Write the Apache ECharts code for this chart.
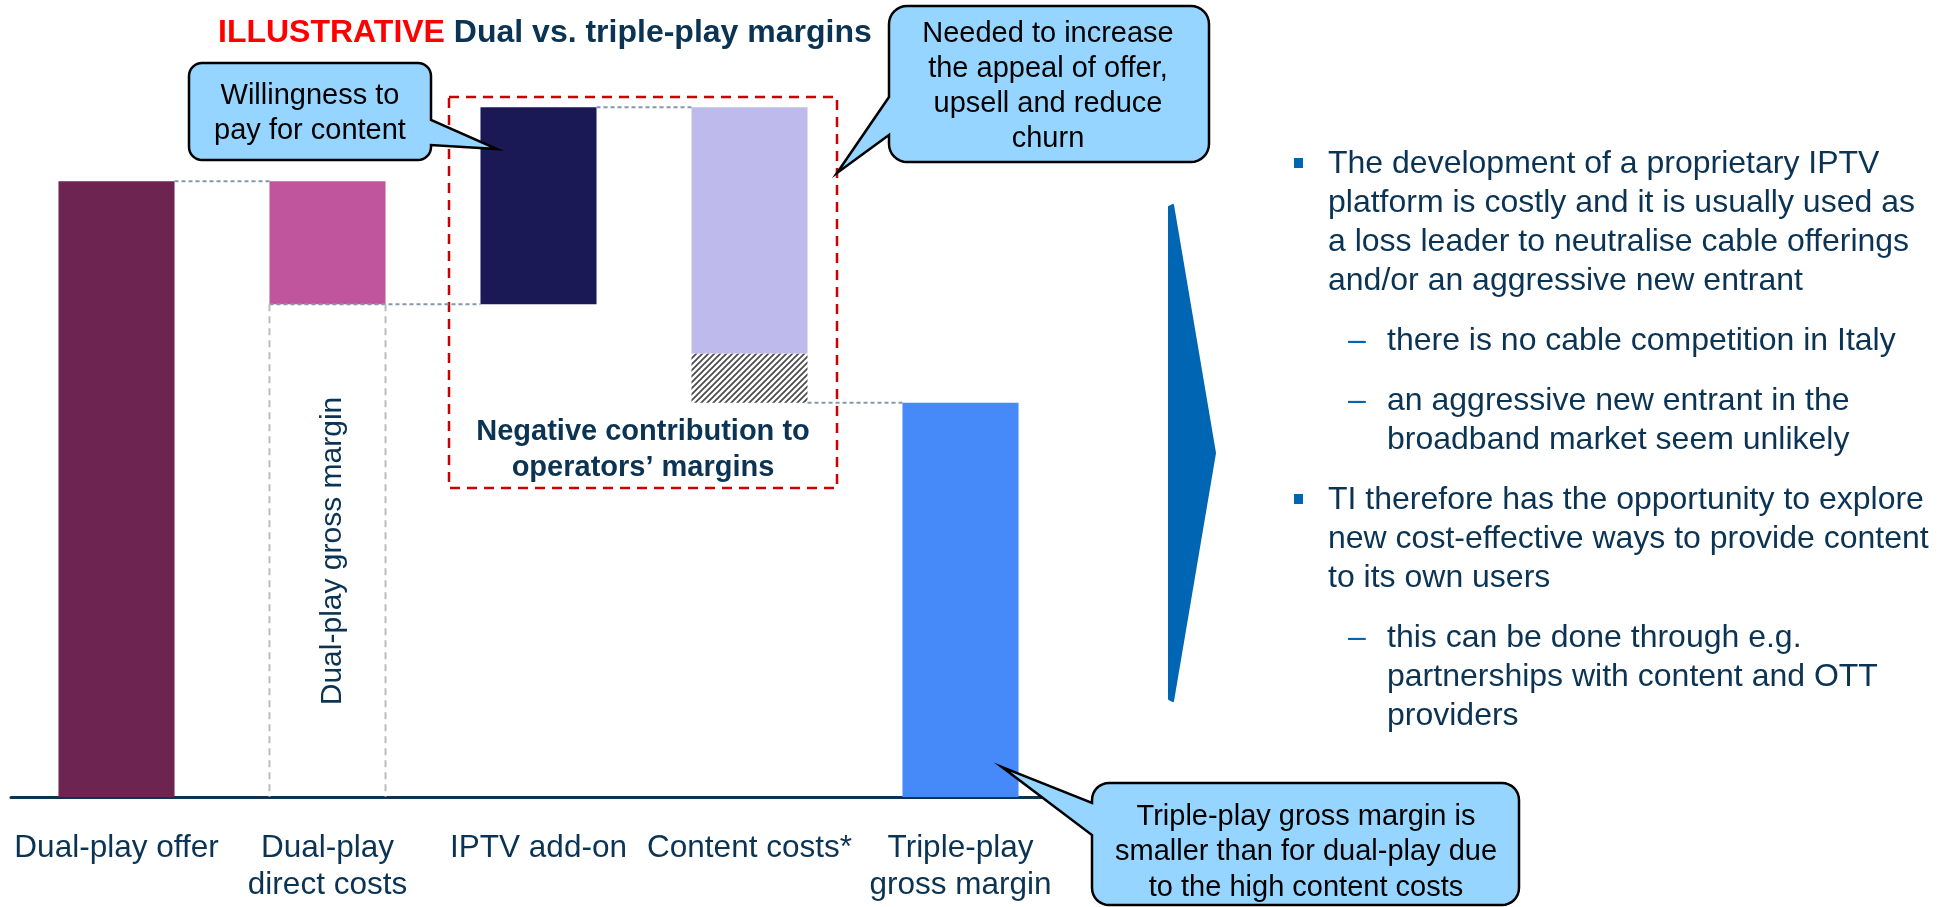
<!DOCTYPE html>
<html><head><meta charset="utf-8">
<script src="https://cdn.jsdelivr.net/npm/echarts@6/dist/echarts.min.js"></script>
<style>html,body{margin:0;padding:0;background:#fff}#c{width:1951px;height:907px}</style>
</head><body><div id="c"></div>
<script>
// ---- data ----
const categories = ['Dual-play offer', 'Dual-play\ndirect costs', 'IPTV add-on', 'Content costs*', 'Triple-play\ngross margin'];
const baseValues    = [0, 80, 80, 64, 0];   // invisible waterfall offsets
const hatchedValues = [0, 0, 0, 8, 0];      // hatched part of content costs
const barValues     = [100, 20, 32, 40, 64];

const bullet1Lines = ['The development of a proprietary IPTV', 'platform is costly and it is usually used as', 'a loss leader to neutralise cable offerings', 'and/or an aggressive new entrant'];
const sub1Lines = ['there is no cable competition in Italy'];
const sub2Lines = ['an aggressive new entrant in the', 'broadband market seem unlikely'];
const bullet2Lines = ['TI therefore has the opportunity to explore', 'new cost-effective ways to provide content', 'to its own users'];
const sub3Lines = ['this can be done through e.g.', 'partnerships with content and OTT', 'providers'];

const calloutWillingness = 'Willingness to\npay for content';
const calloutNeeded = 'Needed to increase\nthe appeal of offer,\nupsell and reduce\nchurn';
const calloutTriple = 'Triple-play gross margin is\nsmaller than for dual-play due\nto the high content costs';
const boxLabel = 'Negative contribution to\noperators\u2019 margins';
const marginLabel = 'Dual-play gross margin';

// ---- styles ----
const FONT = '"Liberation Sans", Arial, Helvetica, sans-serif';
const NAVY = '#0B3353';
const palette = ['#6E2450', '#C0559E', '#1B1856', '#BEBBEC', '#4689F9'];

const pc = document.createElement('canvas'); pc.width = 6; pc.height = 6;
const g = pc.getContext('2d');
g.fillStyle = '#ffffff'; g.fillRect(0, 0, 6, 6);
g.strokeStyle = '#4a4a4a'; g.lineWidth = 1.7;
g.beginPath();
g.moveTo(-1, 7); g.lineTo(7, -1);
g.moveTo(-1, 1); g.lineTo(1, -1);
g.moveTo(5, 7); g.lineTo(7, 5);
g.stroke();

const chart = echarts.init(document.getElementById('c'), null, {renderer: 'canvas'});
chart.setOption({
  animation: false,
  backgroundColor: '#ffffff',
  grid: {left: 11, right: 885, top: 58, bottom: 110, containLabel: false, outerBoundsMode: 'none'},
  xAxis: {
    type: 'category', data: categories,
    axisLine: {show: true, lineStyle: {color: '#0D3350', width: 3}},
    axisTick: {show: false},
    splitLine: {show: false},
    axisLabel: {interval: 0, color: NAVY, fontSize: 31.5, lineHeight: 37, margin: 33, fontFamily: FONT}
  },
  yAxis: {type: 'value', min: 0, max: 120, show: false, splitLine: {show: false}},
  series: [
    {type: 'bar', stack: 'w', data: baseValues, barWidth: '55%', itemStyle: {color: 'rgba(0,0,0,0)'}, silent: true},
    {type: 'bar', stack: 'w', data: hatchedValues, barWidth: '55%', itemStyle: {color: {image: pc, repeat: 'repeat'}}},
    {type: 'bar', stack: 'w', barWidth: '55%',
     data: barValues.map((v, i) => ({value: v, itemStyle: {color: palette[i]}}))}
  ]
});

// ---- annotations ----
const px = (i, v) => chart.convertToPixel({xAxisIndex: 0, yAxisIndex: 0}, [i, v]);
const band = px(1, 0)[0] - px(0, 0)[0];
const half = band * 0.55 / 2;
const cx = i => px(i, 0)[0];
const vy = v => px(0, v)[1];

const gray = {stroke: '#8497AB', lineWidth: 2, lineDash: [4, 3]};
const light = {stroke: '#BDBDBD', lineWidth: 2, lineDash: [7, 5]};
function ln(x1, y1, x2, y2, st) { return {type: 'line', shape: {x1, y1, x2, y2}, style: st, z: 5}; }

const lvOffer = barValues[0];
const lvDirect = baseValues[1];
const lvIptv = baseValues[2] + barValues[2];
const lvContent = baseValues[3];

const els = [];
// connectors
els.push(ln(cx(0) + half, vy(lvOffer), cx(1) - half, vy(lvOffer), gray));
els.push(ln(cx(1) - half, vy(lvDirect), cx(2) - half, vy(lvDirect), gray));
els.push(ln(cx(2) + half, vy(lvIptv), cx(3) - half, vy(lvIptv), gray));
els.push(ln(cx(3) + half, vy(lvContent), cx(4) - half, vy(lvContent), gray));
// dual-play gross margin outline
els.push(ln(cx(1) - half, vy(lvDirect), cx(1) - half, vy(0), light));
els.push(ln(cx(1) + half, vy(lvDirect), cx(1) + half, vy(0), light));

// rotated label
els.push({type: 'text', x: cx(1) + 5, y: 551, rotation: Math.PI / 2, z: 6,
  style: {text: marginLabel, fontSize: 30, fontFamily: FONT, fill: NAVY, align: 'center', verticalAlign: 'middle'}});

// red dashed box
els.push({type: 'rect', shape: {x: 449, y: 97, width: 388, height: 391}, z: 4,
  style: {fill: 'none', stroke: '#CC0000', lineWidth: 2.5, lineDash: [10, 7]}});
els.push({type: 'text', x: 643, y: 450, z: 6,
  style: {text: boxLabel, fontSize: 29, fontWeight: 'bold', fontFamily: FONT, fill: NAVY, align: 'center', verticalAlign: 'middle', lineHeight: 36}});

// title
els.push({type: 'text', x: 218, y: 33, z: 6,
  style: {text: '{r|ILLUSTRATIVE} {n|Dual vs. triple-play margins}', fontSize: 32, fontWeight: 'bold', fontFamily: FONT,
    align: 'left', verticalAlign: 'middle',
    rich: {r: {fill: '#FF0000', fontSize: 32, fontWeight: 'bold', fontFamily: FONT},
           n: {fill: NAVY, fontSize: 32, fontWeight: 'bold', fontFamily: FONT}}}});

// speech bubbles
function bubble(x, y, w, h, r, side, b1, b2, tip) {
  const pts = [];
  const arc = (ccx, ccy, a0, a1) => { for (let k = 0; k <= 8; k++) { const a = a0 + (a1 - a0) * k / 8; pts.push([ccx + r * Math.cos(a), ccy + r * Math.sin(a)]); } };
  arc(x + r, y + r, Math.PI, 1.5 * Math.PI);
  arc(x + w - r, y + r, 1.5 * Math.PI, 2 * Math.PI);
  if (side === 'right') { pts.push([x + w, b1], tip, [x + w, b2]); }
  arc(x + w - r, y + h - r, 0, 0.5 * Math.PI);
  arc(x + r, y + h - r, 0.5 * Math.PI, Math.PI);
  if (side === 'left') { pts.push([x, b2], tip, [x, b1]); }
  return pts;
}
const bubbleStyle = {fill: '#95D5FF', stroke: '#000000', lineWidth: 2.5};
els.push({type: 'polygon', z: 7, shape: {points: bubble(189, 63, 242, 97, 13, 'right', 120, 145, [497, 149])}, style: bubbleStyle});
els.push({type: 'text', x: 310, y: 113.5, z: 8,
  style: {text: calloutWillingness, fontSize: 29, fontFamily: FONT, fill: '#000', align: 'center', verticalAlign: 'middle', lineHeight: 35}});
els.push({type: 'polygon', z: 7, shape: {points: bubble(889, 6, 320, 156, 18, 'left', 97, 135, [837, 173])}, style: bubbleStyle});
els.push({type: 'text', x: 1048, y: 86, z: 8,
  style: {text: calloutNeeded, fontSize: 29, fontFamily: FONT, fill: '#000', align: 'center', verticalAlign: 'middle', lineHeight: 35}});
els.push({type: 'polygon', z: 7, shape: {points: bubble(1092, 783, 427, 122, 17, 'left', 803, 835, [1002, 767])}, style: bubbleStyle});
els.push({type: 'text', x: 1306, y: 852, z: 8,
  style: {text: calloutTriple, fontSize: 29, fontFamily: FONT, fill: '#000', align: 'center', verticalAlign: 'middle', lineHeight: 35.5}});

// wedge
els.push({type: 'polygon', z: 5, shape: {points: [[1169, 207], [1173, 205], [1215, 453], [1173, 701], [1169, 699]]},
  style: {fill: '#0066B3', stroke: '#0066B3', lineWidth: 2, lineJoin: 'round'}});

// bullet text
const blocks = [
  {lines: bullet1Lines, y: 164, kind: 'b'},
  {lines: sub1Lines, y: 341, kind: 'd'},
  {lines: sub2Lines, y: 401, kind: 'd'},
  {lines: bullet2Lines, y: 500, kind: 'b'},
  {lines: sub3Lines, y: 638, kind: 'd'}
];
const LH = 38.9;
blocks.forEach(b => {
  if (b.kind === 'b') {
    els.push({type: 'rect', z: 6, shape: {x: 1294, y: b.y - 6, width: 9, height: 10}, style: {fill: '#0066B3'}});
  } else {
    els.push({type: 'text', x: 1348, y: b.y, z: 6, style: {text: '\u2013', fontSize: 32, fontFamily: FONT, fill: '#0066B3', align: 'left', verticalAlign: 'middle'}});
  }
  const tx = b.kind === 'b' ? 1328 : 1387;
  b.lines.forEach((t, k) => {
    els.push({type: 'text', x: tx, y: b.y + k * LH, z: 6,
      style: {text: t, fontSize: 32, fontFamily: FONT, fill: NAVY, align: 'left', verticalAlign: 'middle'}});
  });
});

chart.setOption({graphic: {elements: els}});
</script>
</body></html>
